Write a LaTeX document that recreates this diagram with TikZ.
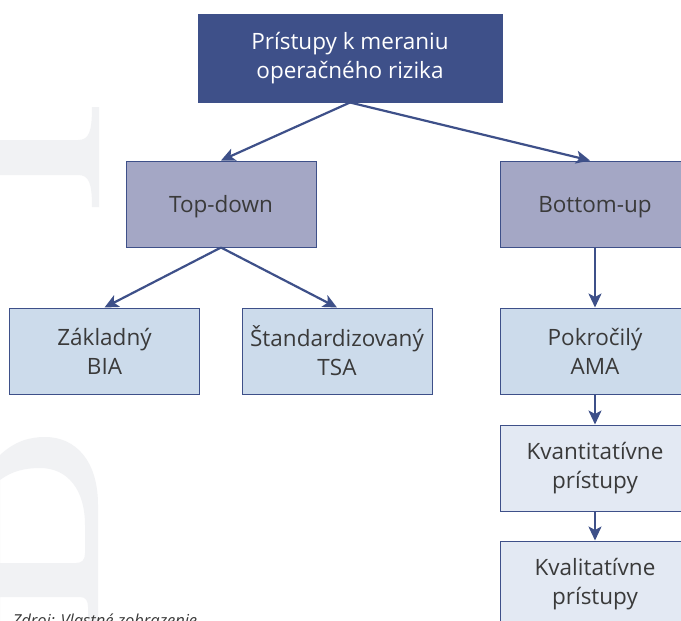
\documentclass[tikz,border=0pt]{standalone}
\usepackage{fontspec}
\setmainfont{Open Sans}
\usetikzlibrary{arrows.meta}

\definecolor{navy}{HTML}{3E5089}
\definecolor{lilac}{HTML}{A4A7C5}
\definecolor{pale}{HTML}{CCDBEB}
\definecolor{paler}{HTML}{E3E9F3}
\definecolor{ghost}{HTML}{F1F2F4}
\definecolor{ink}{HTML}{3A3A3A}

\begin{document}
\begin{tikzpicture}[x=1pt,y=-1pt,
  box/.style={draw=navy,line width=1pt,minimum width=190pt,minimum height=86pt,
    align=center,text=ink,font=\fontsize{22.5}{29}\selectfont},
  head/.style={box,fill=navy,draw=navy,text=white,minimum width=304pt,minimum height=88pt},
  mid/.style={box,fill=lilac,text depth=0pt},
  leaf/.style={box,fill=pale},
  sub/.style={box,fill=paler},
  link/.style={draw=navy,line width=2.2pt,-{Stealth[length=14pt,width=13pt,inset=3.5pt]}}]
\useasboundingbox (0,0) rectangle (681,621);
\clip (0,0) rectangle (681,621);
\fill[white] (0,0) rectangle (681,621);

% faint letters behind
\fill[ghost] (0,140) -- (78,140) .. controls (89,140) and (92,132) .. (92,107)
  -- (99,107) -- (99,207) -- (92,207) .. controls (92,183) and (89,175) .. (78,175)
  -- (0,175) -- cycle;
\fill[ghost,even odd rule]
  (0,455) .. controls (15,441) and (30,437) .. (45,437) .. controls (75,437) and (98,460) .. (98,505)
  -- (98,621) -- (0,621) -- cycle
  (0,480) .. controls (12,471) and (25,468) .. (40,468) .. controls (68,468) and (85,490) .. (85,525)
  -- (85,553) .. controls (85,560) and (82,563) .. (76,563) -- (0,563) -- cycle
  (0,597) -- (80,597) .. controls (86,597) and (88,601) .. (88,607) -- (88,621) -- (0,621) -- cycle;

\node[head] (root) at (350,58) {Prístupy k meraniu\\operačného rizika};
\node[mid] (topdown) at (221,204) {Top-down};
\node[mid] (bottomup) at (595,204) {Bottom-up};
\node[leaf] (bia) at (104.5,351) {Základný\\BIA};
\node[leaf] (tsa) at (337,351) {Štandardizovaný\\TSA};
\node[leaf] (ama) at (595,351) {Pokročilý\\AMA};
\node[sub] (kvant) at (595,468) {Kvantitatívne\\prístupy};
\node[sub] (kval) at (595,584) {Kvalitatívne\\prístupy};

\draw[link] (root.south) -- (topdown.north);
\draw[link] (root.south) -- ([xshift=-5pt]bottomup.north);
\draw[link] (topdown.south) -- (bia.north);
\draw[link] (topdown.south) -- (tsa.north);
\draw[link] (bottomup.south) -- (ama.north);
\draw[link] (ama.south) -- (kvant.north);
\draw[link] (kvant.south) -- (kval.north);

\node[anchor=base west,text=ink,font=\fontsize{16.5}{18}\selectfont\itshape] (zdroj) at (9,626) {Zdroj: Vlastné zobrazenie};
\end{tikzpicture}
\end{document}
